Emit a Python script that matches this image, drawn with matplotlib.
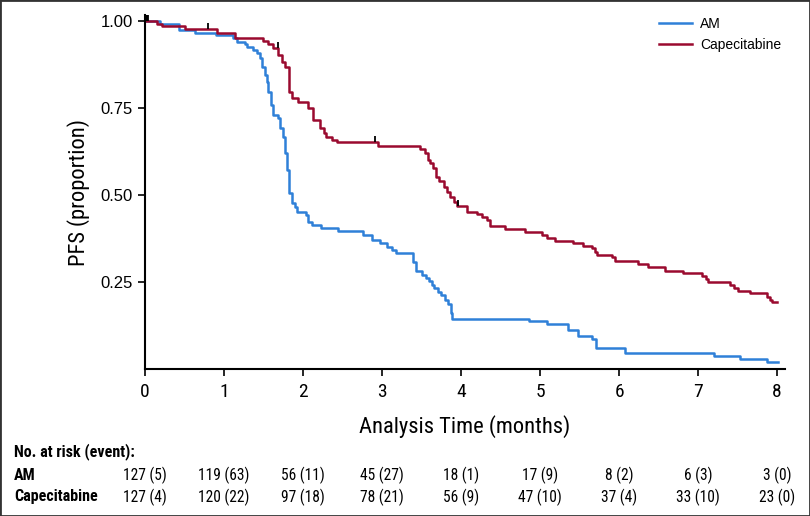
import matplotlib
matplotlib.use("Agg")
import matplotlib.pyplot as plt
from matplotlib import font_manager
from matplotlib.font_manager import FontProperties
from matplotlib.patches import Rectangle
from matplotlib.transforms import blended_transform_factory

# Kaplan-Meier steps (time in months, survival after the drop)
am_time = [0, 0.19, 0.43, 0.63, 0.90, 1.11, 1.16, 1.27, 1.29, 1.37, 1.42, 1.46, 1.48,
           1.52, 1.54, 1.56, 1.60, 1.62, 1.68, 1.71, 1.75, 1.77, 1.80, 1.82, 1.86, 1.90,
           1.92, 2.04, 2.06, 2.11, 2.23, 2.44, 2.76, 2.87, 2.97, 3.06, 3.13, 3.18, 3.39,
           3.43, 3.50, 3.56, 3.59, 3.63, 3.66, 3.71, 3.75, 3.80, 3.84, 3.87, 3.89, 4.86,
           5.09, 5.35, 5.48, 5.66, 5.71, 6.08, 7.20, 7.53, 7.87, 8.01]
am_surv = [1.0, 0.99, 0.974, 0.966, 0.96, 0.95, 0.94, 0.934, 0.926, 0.917, 0.908, 0.894, 0.868,
           0.845, 0.825, 0.796, 0.759, 0.73, 0.72, 0.693, 0.667, 0.62, 0.572, 0.506, 0.477, 0.466,
           0.451, 0.442, 0.422, 0.414, 0.405, 0.397, 0.385, 0.371, 0.362, 0.35, 0.342, 0.333, 0.307,
           0.282, 0.27, 0.261, 0.253, 0.241, 0.233, 0.221, 0.212, 0.198, 0.186, 0.161, 0.144, 0.138,
           0.13, 0.112, 0.095, 0.086, 0.06, 0.046, 0.037, 0.029, 0.02, 0.02]

cap_time = [0, 0.15, 0.21, 0.51, 0.91, 1.14, 1.49, 1.56, 1.62, 1.68, 1.73, 1.77, 1.82, 1.86,
            1.94, 2.06, 2.13, 2.22, 2.26, 2.29, 2.37, 2.43, 2.95, 3.48, 3.55, 3.58, 3.61, 3.64,
            3.68, 3.72, 3.78, 3.82, 3.86, 3.91, 3.95, 4.07, 4.20, 4.26, 4.33, 4.37, 4.56, 4.81,
            5.03, 5.09, 5.19, 5.42, 5.54, 5.66, 5.70, 5.72, 5.91, 5.95, 6.24, 6.37, 6.58, 6.81,
            7.05, 7.10, 7.13, 7.41, 7.45, 7.50, 7.66, 7.87, 7.91, 7.94, 8.0]
cap_surv = [1.0, 0.99, 0.984, 0.976, 0.966, 0.951, 0.943, 0.934, 0.922, 0.902, 0.883, 0.869, 0.797,
            0.778, 0.768, 0.75, 0.716, 0.693, 0.678, 0.667, 0.658, 0.652, 0.641, 0.632, 0.621, 0.60,
            0.592, 0.578, 0.552, 0.54, 0.523, 0.509, 0.494, 0.48, 0.468, 0.451, 0.445, 0.437, 0.428,
            0.411, 0.402, 0.394, 0.385, 0.376, 0.368, 0.362, 0.353, 0.348, 0.336, 0.328, 0.322, 0.31,
            0.301, 0.293, 0.282, 0.276, 0.267, 0.259, 0.25, 0.241, 0.233, 0.224, 0.218, 0.207, 0.198,
            0.193, 0.193]

# censored observations (time, survival level)
censor_time = [0.0, 0.01, 0.02, 0.03, 0.04, 0.8, 1.68, 2.91, 3.96]
censor_surv = [1.0, 1.0, 1.0, 1.0, 1.0, 0.976, 0.922, 0.652, 0.468]

risk_times = [0, 1, 2, 3, 4, 5, 6, 7, 8]
am_risk = ["127 (5)", "119 (63)", "56 (11)", "45 (27)", "18 (1)", "17 (9)", "8 (2)", "6 (3)", "3 (0)"]
cap_risk = ["127 (4)", "120 (22)", "97 (18)", "78 (21)", "56 (9)", "47 (10)", "37 (4)", "33 (10)", "23 (0)"]

blue = "#2f80d8"
red = "#9a0a2f"


def condensed_font(bold):
    # look for a narrow / condensed sans face; None if there is none
    prefer = ["Liberation Sans Narrow", "Roboto Condensed", "Open Sans Condensed",
              "Noto Sans", "Open Sans", "Roboto", "Inter", "DejaVu Sans"]
    found = []
    for f in font_manager.fontManager.ttflist:
        w = f.weight if isinstance(f.weight, int) else font_manager.weight_dict.get(f.weight, 400)
        cond = f.stretch in ("condensed", "semi-condensed", "extra-condensed") or \
            "Narrow" in f.name or "Condensed" in f.name
        if not cond or f.style != "normal" or "Mono" in f.name or "Serif" in f.name:
            continue
        if (w >= 600) != bold or (bold and w > 750) or (not bold and w < 350):
            continue
        rank = prefer.index(f.name) if f.name in prefer else len(prefer)
        found.append((rank, f.fname))
    found.sort()
    return found[0][1] if found else None


narrow_reg = condensed_font(False)
narrow_bold = condensed_font(True)


def nfont(size, bold=False):
    path = narrow_bold if bold else narrow_reg
    if path:
        return FontProperties(fname=path, size=size)
    return FontProperties(family=["Liberation Sans", "DejaVu Sans"], size=size * 0.86,
                          weight="bold" if bold else "normal")


fig = plt.figure(figsize=(8.1, 5.16), dpi=100)
ax = fig.add_axes([145 / 810, 1 - 369 / 516, 640 / 810, 354 / 516])

ax.step(am_time, am_surv, where="post", color=blue, lw=1.8, label="AM")
ax.step(cap_time, cap_surv, where="post", color=red, lw=1.8, label="Capecitabine")
ax.vlines(censor_time, censor_surv, [s + 0.018 for s in censor_surv], color="black", lw=1.3)

ax.set_xlim(0, 8.1)
ax.set_ylim(0, 1.017)
ax.set_xticks(risk_times)
ax.set_xticklabels([str(t) for t in risk_times], fontproperties=nfont(14))
ax.set_yticks([0.25, 0.5, 0.75, 1.0])
ax.set_yticklabels(["0.25", "0.50", "0.75", "1.00"], family=["Liberation Sans", "DejaVu Sans"], fontsize=12)
ax.tick_params(axis="both", direction="out", length=5, width=1.2, colors="black")
ax.tick_params(axis="x", pad=5)
ax.tick_params(axis="y", pad=4)

for side in ["top", "right"]:
    ax.spines[side].set_visible(False)
for side in ["left", "bottom"]:
    ax.spines[side].set_linewidth(1.5)

ax.set_xlabel("Analysis Time (months)", fontproperties=nfont(16.2), labelpad=10)
ax.set_ylabel("PFS (proportion)", fontproperties=nfont(16.2), labelpad=7)

ax.legend(loc="upper left", bbox_to_anchor=(646 / 810, 1 - 4 / 516), bbox_transform=fig.transFigure,
          frameon=False, handlelength=2.4, handletextpad=0.6, labelspacing=0.55,
          prop={"family": ["Liberation Sans", "DejaVu Sans"], "size": 10})

# number at risk table
trans = blended_transform_factory(ax.transData, fig.transFigure)
fig.text(14 / 810, 1 - 452 / 516, "No. at risk (event):", fontproperties=nfont(11.5, True), va="center")
fig.text(14 / 810, 1 - 475 / 516, "AM", fontproperties=nfont(11.5, True), va="center")
fig.text(14 / 810, 1 - 497 / 516, "Capecitabine", fontproperties=nfont(11.5, True), va="center")
for t, a, c in zip(risk_times, am_risk, cap_risk):
    ax.text(t, 1 - 475 / 516, a, transform=trans, fontproperties=nfont(11.2), ha="center", va="center")
    ax.text(t, 1 - 497 / 516, c, transform=trans, fontproperties=nfont(11.2), ha="center", va="center")

fig.patches.append(Rectangle((0, 0), 1, 1, transform=fig.transFigure, fill=False,
                             edgecolor="#333333", lw=2))

fig.savefig("out.png", dpi=100)
